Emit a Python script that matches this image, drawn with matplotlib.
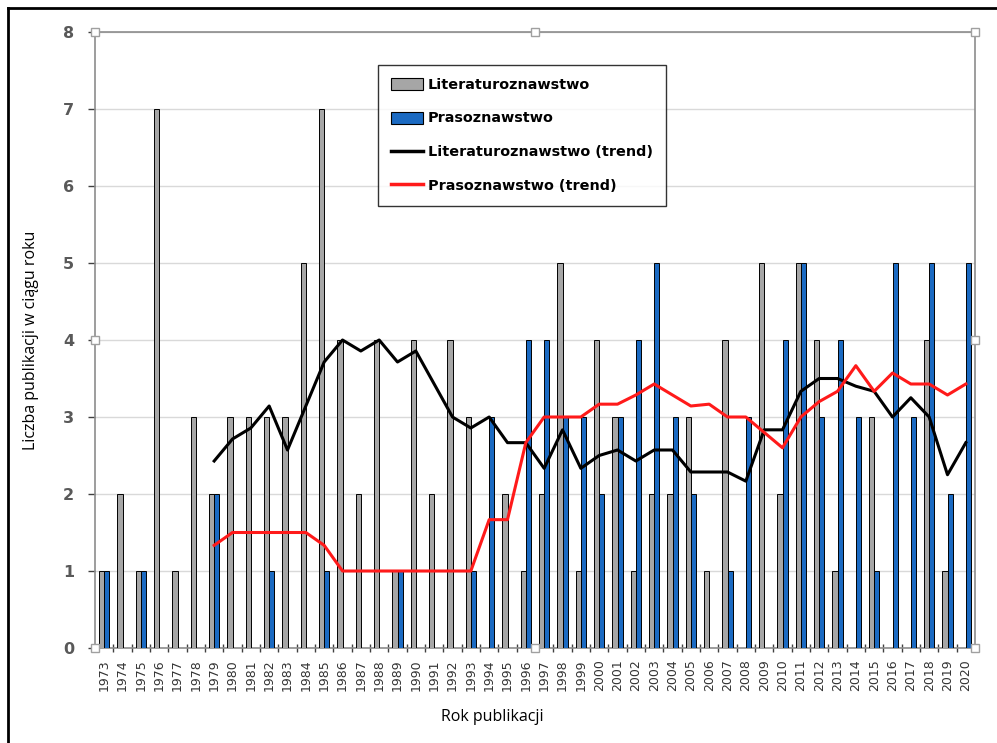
import numpy as np
import pandas as pd
import matplotlib
matplotlib.use("Agg")
import matplotlib.pyplot as plt
from matplotlib.lines import Line2D
from matplotlib.patches import Patch

years = list(range(1973, 2021))
# None = no publication (blank cell)
literaturoznawstwo = [1, 2, 1, 7, 1, 3, 2, 3, 3, 3, 3, 5, 7, 4, 2, 4, 1, 4, 2, 4,
                      3, None, 2, 1, 2, 5, 1, 4, 3, 1, 2, 2, 3, 1, 4, None, 5, 2,
                      5, 4, 1, None, 3, None, None, 4, 1, None]
prasoznawstwo = [1, None, 1, None, None, None, 2, None, None, 1, None, None, 1, None,
                 None, None, 1, None, None, None, 1, 3, None, 4, 4, 3, 3, 2, 3, 4,
                 5, 3, 2, None, 1, 3, None, 4, 5, 3, 4, 3, 1, 5, 3, 5, 2, 5]
trend_window = 7

lit = pd.Series(literaturoznawstwo, dtype=float)
pras = pd.Series(prasoznawstwo, dtype=float)
lit_trend = lit.rolling(trend_window, min_periods=1).mean()
pras_trend = pras.rolling(trend_window, min_periods=1).mean()
lit_trend.iloc[:trend_window - 1] = np.nan
pras_trend.iloc[:trend_window - 1] = np.nan

W, H = 997, 743
fig = plt.figure(figsize=(W / 100, H / 100), dpi=100)
ax = fig.add_axes([95 / W, 1 - 648 / H, (975 - 95) / W, (648 - 32) / H])

x = np.arange(len(years))
bw = 0.285
mlit = lit.notna().values
mpras = pras.notna().values
ax.bar(x[mlit] - bw / 2, lit[mlit], width=bw, color="#A6A6A6", edgecolor="black",
       linewidth=0.7, zorder=3)
ax.bar(x[mpras] + bw / 2, pras[mpras], width=bw, color="#1B6AC2", edgecolor="black",
       linewidth=0.7, zorder=3)
ax.plot(x, lit_trend, color="black", lw=2.2, zorder=4)
ax.plot(x, pras_trend, color="#FF1A1A", lw=2.2, zorder=4)

ax.set_xlim(-0.5, len(years) - 0.5)
ax.set_ylim(0, 8)
ax.set_yticks(range(0, 9))
ax.yaxis.grid(True, color="#D9D9D9", lw=1, zorder=0)
ax.set_axisbelow(True)
for s in ax.spines.values():
    s.set_color("#8C8C8C")
    s.set_linewidth(1.2)

ax.set_yticklabels([str(v) for v in range(9)], fontweight="bold",
                   color="#595959", fontsize=11.5, family="DejaVu Sans")
ax.tick_params(axis="y", length=5, width=1, color="#404040", pad=10)

ax.set_xticks(x)
ax.set_xticklabels([str(y) for y in years], rotation=90, fontsize=9,
                   color="#333333")
ax.tick_params(axis="x", which="major", length=0, pad=8)
ax.set_xticks(np.arange(-0.5, len(years), 1), minor=True)
ax.tick_params(axis="x", which="minor", length=6, width=1, color="#404040",
               direction="inout")

ax.set_ylabel("Liczba publikacji w ciągu roku", fontsize=11.5, family="Open Sans",
              color="black")
ax.yaxis.set_label_coords((31 - 95) / 880, 0.5)
ax.set_xlabel("Rok publikacji", fontsize=11.5, family="Open Sans", color="black")
ax.xaxis.set_label_coords((492 - 95) / 880, -(717 - 648) / 616)
ax.xaxis.label.set_va("center")
ax.yaxis.label.set_va("center")

handles = [Patch(facecolor="#A6A6A6", edgecolor="black", lw=0.8),
           Patch(facecolor="#1B6AC2", edgecolor="black", lw=0.8),
           Line2D([], [], color="black", lw=2.5),
           Line2D([], [], color="#FF1A1A", lw=2.5)]
labels = ["Literaturoznawstwo", "Prasoznawstwo", "Literaturoznawstwo (trend)",
          "Prasoznawstwo (trend)"]
leg = fig.legend(handles, labels, loc="upper left",
                 bbox_to_anchor=(378 / W, 1 - 65 / H),
                 bbox_transform=fig.transFigure, borderaxespad=0,
                 prop={"weight": "bold", "size": 10.4, "family": "DejaVu Sans"},
                 frameon=True, fancybox=False, edgecolor="black",
                 handlelength=2.2, handleheight=0.9, labelspacing=1.35,
                 borderpad=0.9, handletextpad=0.35)
leg.get_frame().set_linewidth(1.0)

# selection handles on plot area
for hx, hy in [(0, 0), (0, 0.5), (0, 1), (0.5, 0), (0.5, 1), (1, 0), (1, 0.5), (1, 1)]:
    ax.plot([hx], [hy], marker="s", ms=6, mfc="white", mec="#A0A0A0", mew=1,
            transform=ax.transAxes, clip_on=False, zorder=10)

# outer frame (left and top)
fig.add_artist(Line2D([8 / W, 8 / W], [0, 1 - 8 / H], color="black", lw=2,
                      transform=fig.transFigure))
fig.add_artist(Line2D([8 / W, 1], [1 - 8 / H, 1 - 8 / H], color="black", lw=2,
                      transform=fig.transFigure))

fig.savefig("out.png", dpi=100)
